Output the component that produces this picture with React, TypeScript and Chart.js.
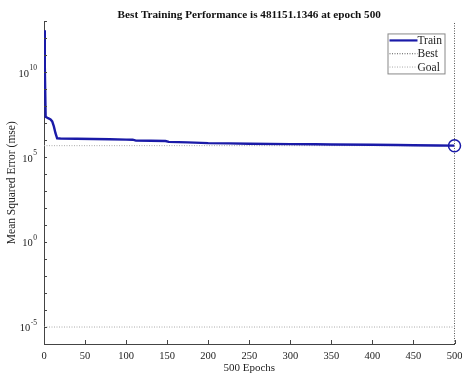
import React, { useEffect, useRef } from "react";
import { Chart, registerables } from "chart.js";

Chart.register(...registerables);

// ---------- data ----------
const TITLE = "Best Training Performance is 481151.1346 at epoch 500";
const X_TITLE = "500 Epochs";
const Y_TITLE = "Mean Squared Error (mse)";

const EPOCHS = [0, 1, 2, 5, 8, 10, 12, 14, 16, 20, 40, 60, 80, 100, 108, 112, 130, 148, 152, 175, 200, 225, 250, 300, 330, 350, 400, 430, 450, 480, 500];
const TRAIN_MSE = [3e12, 2e10, 2.4e7, 2e7, 1.7e7, 1.3e7, 6.6e6, 2.6e6, 1.3e6, 1.27e6, 1.22e6, 1.18e6, 1.14e6, 1.1e6, 1.08e6, 9.6e5, 9.3e5, 9e5, 8e5, 7.5e5, 6.8e5, 6.6e5, 6.3e5, 5.9e5, 5.8e5, 5.6e5, 5.4e5, 5.3e5, 5.1e5, 4.9e5, 481151.1346];

const BEST_EPOCH = 500;
const BEST_PERF = 481151.1346;
const GOAL = 1e-5;

const X_MIN = 0;
const X_MAX = 500;
const X_STEP = 50;
const Y_MIN = 1e-6;
const Y_MAX = 1e13;
const Y_MINOR_EXPONENTS = [-6, -5, -4, -3, -2, -1, 0, 1, 2, 3, 4, 5, 6, 7, 8, 9, 10, 11, 12, 13];
const Y_LABEL_EXPONENTS = [10, 5, 0, -5];
const LEGEND_LABELS = ["Train", "Best", "Goal"];

// ---------- styles ----------
const FONT = "'Liberation Serif', 'Times New Roman', serif";
const TRAIN_COLOR = "#1a1aa8";
const BEST_COLOR = "#555555";
const GOAL_COLOR = "#aaaaaa";
const AXIS_COLOR = "#444444";
const TEXT_COLOR = "#222222";

const decorPlugin = {
  id: "decor",
  afterDraw(chart: any) {
    const ctx = chart.ctx as CanvasRenderingContext2D;
    const { left, right, top, bottom } = chart.chartArea;
    const xs = chart.scales.x;
    const ys = chart.scales.y;
    ctx.save();
    // inner ticks
    ctx.strokeStyle = AXIS_COLOR;
    ctx.lineWidth = 1;
    for (let v = X_MIN; v <= X_MAX; v += X_STEP) {
      const px = Math.round(xs.getPixelForValue(v)) + 0.5;
      ctx.beginPath();
      ctx.moveTo(px, bottom);
      ctx.lineTo(px, bottom - 4);
      ctx.stroke();
    }
    for (const e of Y_MINOR_EXPONENTS) {
      const py = Math.round(ys.getPixelForValue(Math.pow(10, e))) + 0.5;
      ctx.beginPath();
      ctx.moveTo(left, py);
      ctx.lineTo(left + 3, py);
      ctx.stroke();
    }
    // y tick labels 10^n
    ctx.fillStyle = TEXT_COLOR;
    for (const e of Y_LABEL_EXPONENTS) {
      const py = ys.getPixelForValue(Math.pow(10, e));
      const expText = String(e);
      ctx.font = `7.5px ${FONT}`;
      const w2 = ctx.measureText(expText).width;
      const xr = left - 7;
      ctx.textAlign = "left";
      ctx.textBaseline = "alphabetic";
      ctx.fillText(expText, xr - w2, py - 2);
      ctx.font = `10.5px ${FONT}`;
      ctx.textAlign = "right";
      ctx.textBaseline = "middle";
      ctx.fillText("10", xr - w2 - 0.5, py + 1.5);
    }
    // legend
    const bx = right - 67;
    const by = top + 12;
    const bw = 57;
    const bh = 40;
    ctx.fillStyle = "#ffffff";
    ctx.fillRect(bx, by, bw, bh);
    ctx.strokeStyle = "#888888";
    ctx.lineWidth = 1;
    ctx.strokeRect(bx + 0.5, by + 0.5, bw, bh);
    const rows = [
      { color: TRAIN_COLOR, width: 2.2, dash: [] as number[] },
      { color: BEST_COLOR, width: 1, dash: [1, 1.5] },
      { color: GOAL_COLOR, width: 1, dash: [1, 1.5] },
    ];
    LEGEND_LABELS.forEach((label, i) => {
      const ry = by + 7 + i * 13.3;
      const r = rows[i];
      ctx.strokeStyle = r.color;
      ctx.lineWidth = r.width;
      ctx.setLineDash(r.dash);
      ctx.beginPath();
      ctx.moveTo(bx + 2, ry);
      ctx.lineTo(bx + 30, ry);
      ctx.stroke();
      ctx.setLineDash([]);
      ctx.fillStyle = TEXT_COLOR;
      ctx.font = `11.5px ${FONT}`;
      ctx.textAlign = "left";
      ctx.textBaseline = "middle";
      ctx.fillText(label, bx + 30, ry + 0.5);
    });
    ctx.restore();
  },
};

export default function App() {
  const ref = useRef<HTMLCanvasElement | null>(null);
  useEffect(() => {
    if (!ref.current) return;
    const trainPts = EPOCHS.map((x, i) => ({ x, y: TRAIN_MSE[i] }));
    const chart = new Chart(ref.current, {
      type: "line",
      data: {
        datasets: [
          {
            label: "Train",
            data: trainPts,
            borderColor: TRAIN_COLOR,
            borderWidth: 2.4,
            pointRadius: 0,
            tension: 0,
          },
          {
            label: "BestMarker",
            data: [{ x: BEST_EPOCH, y: BEST_PERF }],
            showLine: false,
            pointRadius: 6,
            pointBorderColor: TRAIN_COLOR,
            pointBackgroundColor: "rgba(0,0,0,0)",
            pointBorderWidth: 1.5,
            clip: false,
          },
          {
            label: "BestV",
            data: [{ x: BEST_EPOCH, y: Y_MIN }, { x: BEST_EPOCH, y: Y_MAX }],
            borderColor: BEST_COLOR,
            borderWidth: 1,
            borderDash: [1, 1.5],
            pointRadius: 0,
            clip: false,
          },
          {
            label: "BestH",
            data: [{ x: X_MIN, y: BEST_PERF }, { x: X_MAX, y: BEST_PERF }],
            borderColor: GOAL_COLOR,
            borderWidth: 1,
            borderDash: [1, 1.5],
            pointRadius: 0,
          },
          {
            label: "Goal",
            data: [{ x: X_MIN, y: GOAL }, { x: X_MAX, y: GOAL }],
            borderColor: GOAL_COLOR,
            borderWidth: 1,
            borderDash: [1, 1.5],
            pointRadius: 0,
          },
        ],
      },
      options: {
        responsive: false,
        animation: false,
        devicePixelRatio: 1,
        layout: { padding: { left: 0, right: 0, top: 0, bottom: 0 } },
        plugins: {
          legend: { display: false },
          tooltip: { enabled: false },
          title: {
            display: true,
            fullSize: false,
            text: TITLE,
            color: "#111111",
            font: { family: FONT, size: 11.2, weight: "bold" },
            padding: { top: 8, bottom: 0 },
          },
        },
        scales: {
          x: {
            type: "linear",
            min: X_MIN,
            max: X_MAX,
            ticks: {
              stepSize: X_STEP,
              color: TEXT_COLOR,
              font: { family: FONT, size: 10.5 },
              padding: 6,
              maxRotation: 0,
            },
            grid: { display: false, drawTicks: false },
            border: { display: true, color: AXIS_COLOR },
            title: {
              display: true,
              text: X_TITLE,
              color: TEXT_COLOR,
              font: { family: FONT, size: 11 },
              padding: { top: 0, bottom: 1 },
            },
            afterFit(s: any) {
              s.height = 32;
              s.paddingLeft = 0;
              s.paddingRight = 7;
            },
          },
          y: {
            type: "logarithmic",
            min: Y_MIN,
            max: Y_MAX,
            ticks: { display: false },
            grid: { display: false, drawTicks: false },
            border: { display: true, color: AXIS_COLOR },
            title: {
              display: true,
              text: Y_TITLE,
              color: TEXT_COLOR,
              font: { family: FONT, size: 11.5 },
              padding: { top: 5, bottom: 0 },
            },
            afterFit(s: any) {
              s.width = 44;
              s.paddingTop = 0;
              s.paddingBottom = 0;
            },
          },
        },
      },
      plugins: [decorPlugin],
    } as any);
    return () => chart.destroy();
  }, []);
  return (
    <div style={{ position: "fixed", left: 0, top: 0, width: 462, height: 376, background: "#ffffff" }}>
      <canvas ref={ref} width={462} height={376} />
    </div>
  );
}
